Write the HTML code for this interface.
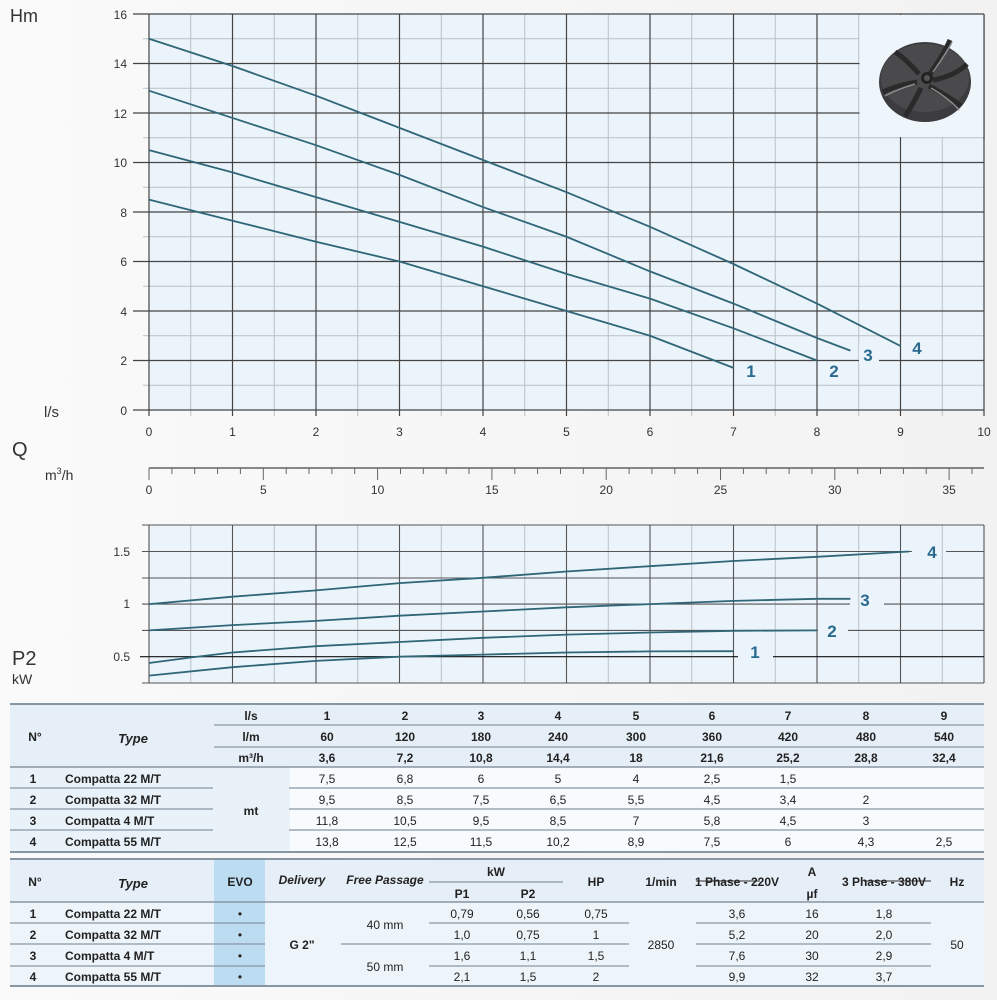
<!DOCTYPE html>
<html><head><meta charset="utf-8"><style>
html,body{margin:0;padding:0;background:#f6f6f6;}
svg{display:block;font-family:"Liberation Sans",sans-serif;}
</style></head><body>
<svg width="997" height="1000" viewBox="0 0 997 1000" xmlns="http://www.w3.org/2000/svg">
<defs>
<linearGradient id="bg" x1="0" x2="1" y1="0" y2="0"><stop offset="0" stop-color="#fafafa"/><stop offset="1" stop-color="#f2f2f2"/></linearGradient>
</defs>
<rect width="997" height="1000" fill="url(#bg)"/>
<!-- TOP CHART -->
<rect x="149" y="14" width="835" height="396" fill="#ebf4fb"/>
<g stroke="#b9c1c8" stroke-width="1">
<line x1="190.75" y1="14" x2="190.75" y2="416"/><line x1="274.25" y1="14" x2="274.25" y2="416"/><line x1="357.75" y1="14" x2="357.75" y2="416"/><line x1="441.25" y1="14" x2="441.25" y2="416"/><line x1="524.75" y1="14" x2="524.75" y2="416"/><line x1="608.25" y1="14" x2="608.25" y2="416"/><line x1="691.75" y1="14" x2="691.75" y2="416"/><line x1="775.25" y1="14" x2="775.25" y2="416"/><line x1="858.75" y1="14" x2="858.75" y2="416"/><line x1="942.25" y1="14" x2="942.25" y2="416"/>
<line x1="143" y1="38.75" x2="984" y2="38.75"/><line x1="143" y1="88.25" x2="984" y2="88.25"/><line x1="143" y1="137.75" x2="984" y2="137.75"/><line x1="143" y1="187.25" x2="984" y2="187.25"/><line x1="143" y1="236.75" x2="984" y2="236.75"/><line x1="143" y1="286.25" x2="984" y2="286.25"/><line x1="143" y1="335.75" x2="984" y2="335.75"/><line x1="143" y1="385.25" x2="984" y2="385.25"/>
</g>
<g stroke="#444" stroke-width="1.2">
<line x1="149" y1="14" x2="149" y2="416"/><line x1="232.5" y1="14" x2="232.5" y2="416"/><line x1="316" y1="14" x2="316" y2="416"/><line x1="399.5" y1="14" x2="399.5" y2="416"/><line x1="483" y1="14" x2="483" y2="416"/><line x1="566.5" y1="14" x2="566.5" y2="416"/><line x1="650" y1="14" x2="650" y2="416"/><line x1="733.5" y1="14" x2="733.5" y2="416"/><line x1="817" y1="14" x2="817" y2="416"/><line x1="900.5" y1="14" x2="900.5" y2="416"/><line x1="984" y1="14" x2="984" y2="416"/>
<line x1="133" y1="14" x2="984" y2="14"/><line x1="133" y1="63.5" x2="984" y2="63.5"/><line x1="133" y1="113" x2="984" y2="113"/><line x1="133" y1="162.5" x2="984" y2="162.5"/><line x1="133" y1="212" x2="984" y2="212"/><line x1="133" y1="261.5" x2="984" y2="261.5"/><line x1="133" y1="311" x2="984" y2="311"/><line x1="133" y1="360.5" x2="984" y2="360.5"/><line x1="133" y1="410" x2="984" y2="410"/>
</g>
<rect x="859.5" y="15" width="124" height="122" fill="#eef5fb"/>
<line x1="984" y1="14" x2="984" y2="140" stroke="#444" stroke-width="1.2"/>
<!-- impeller -->
<g transform="translate(925,82)">
<ellipse cx="0" cy="0" rx="46" ry="40" fill="#3c3c3e"/>
<ellipse cx="0" cy="-4" rx="44" ry="34" fill="#4a4a4c"/>
<g stroke="#2a2a2a" stroke-width="5" fill="none">
<path d="M5,-8 Q20,-30 25,-42"/><path d="M8,-2 Q30,-6 42,-18"/><path d="M4,4 Q26,16 36,24"/><path d="M-4,6 Q-14,26 -20,34"/><path d="M-8,0 Q-30,4 -42,10"/><path d="M-6,-8 Q-20,-24 -30,-30"/>
</g>
<g stroke="#8a8a8c" stroke-width="1.5" fill="none">
<path d="M8,-10 Q22,-30 27,-40"/><path d="M-10,2 Q-30,8 -40,14"/><path d="M6,6 Q26,18 34,28"/>
</g>
<circle cx="2" cy="-4" r="6" fill="#222"/><circle cx="2" cy="-4" r="3" fill="#555"/>
</g>
<!-- curves -->
<g fill="none" stroke="#2f6678" stroke-width="1.8" stroke-linejoin="round">
<polyline points="149,199.6 232.5,220.7 316,241.7 399.5,261.5 483,286.25 566.5,311 650,335.75 733.5,367.9"/>
<polyline points="149,150.1 232.5,172.4 316,197.15 399.5,221.9 483,246.65 566.5,273.9 650,298.6 733.5,328.3 817,360.5"/>
<polyline points="149,90.7 232.5,117.95 316,145.2 399.5,174.9 483,207.05 566.5,236.75 650,271.4 733.5,303.6 817,338 850.4,350.6"/>
<polyline points="149,38.75 232.5,66 316,95.7 399.5,127.85 483,160 566.5,192.2 650,226.85 733.5,264 817,303.6 900.5,346"/>
</g>
<rect x="859" y="344" width="20" height="20" fill="#ebf4fb"/>
<g font-weight="bold" font-size="17" fill="#2a6a8e" text-anchor="middle">
<text x="751" y="377">1</text><text x="834" y="377">2</text><text x="868" y="361">3</text><text x="917" y="354">4</text>
</g>
<g font-size="12" fill="#333" text-anchor="end">
<text x="127" y="19">16</text><text x="127" y="68">14</text><text x="127" y="118">12</text><text x="127" y="167">10</text><text x="127" y="217">8</text><text x="127" y="266">6</text><text x="127" y="316">4</text><text x="127" y="365">2</text><text x="127" y="415">0</text>
</g>
<g font-size="12" fill="#333" text-anchor="middle">
<text x="149" y="436">0</text><text x="232.5" y="436">1</text><text x="316" y="436">2</text><text x="399.5" y="436">3</text><text x="483" y="436">4</text><text x="566.5" y="436">5</text><text x="650" y="436">6</text><text x="733.5" y="436">7</text><text x="817" y="436">8</text><text x="900.5" y="436">9</text><text x="984" y="436">10</text>
</g>
<text x="10" y="22" font-size="18" fill="#333">Hm</text>
<text x="44" y="417" font-size="15" fill="#333">l/s</text>
<text x="12" y="456" font-size="20" fill="#333">Q</text>
<text x="45" y="480" font-size="14" fill="#333">m<tspan font-size="9" dy="-6">3</tspan><tspan dy="6">/h</tspan></text>
<!-- m3/h axis -->
<line x1="149" y1="468" x2="984" y2="468" stroke="#444" stroke-width="1.2"/>
<g stroke="#666" stroke-width="1">
<path d="M149,468v12M263.3,468v12M377.6,468v12M491.9,468v12M606.2,468v12M720.5,468v12M834.8,468v12M949.1,468v12"/>
<path d="M171.9,468v6M194.7,468v6M217.6,468v6M240.4,468v6M286.2,468v6M309,468v6M331.9,468v6M354.7,468v6M400.5,468v6M423.3,468v6M446.2,468v6M469,468v6M514.8,468v6M537.6,468v6M560.5,468v6M583.3,468v6M629.1,468v6M651.9,468v6M674.8,468v6M697.6,468v6M743.4,468v6M766.2,468v6M789.1,468v6M811.9,468v6M857.7,468v6M880.5,468v6M903.4,468v6M926.2,468v6M972,468v6"/>
</g>
<g font-size="12" fill="#333" text-anchor="middle">
<text x="149" y="494">0</text><text x="263.3" y="494">5</text><text x="377.6" y="494">10</text><text x="491.9" y="494">15</text><text x="606.2" y="494">20</text><text x="720.5" y="494">25</text><text x="834.8" y="494">30</text><text x="949.1" y="494">35</text>
</g>
<!-- P2 CHART -->
<rect x="149" y="525" width="835" height="158" fill="#ebf4fb"/>
<g stroke="#b9c1c8" stroke-width="1">
<line x1="190.75" y1="525" x2="190.75" y2="683"/><line x1="274.25" y1="525" x2="274.25" y2="683"/><line x1="357.75" y1="525" x2="357.75" y2="683"/><line x1="441.25" y1="525" x2="441.25" y2="683"/><line x1="524.75" y1="525" x2="524.75" y2="683"/><line x1="608.25" y1="525" x2="608.25" y2="683"/><line x1="691.75" y1="525" x2="691.75" y2="683"/><line x1="775.25" y1="525" x2="775.25" y2="683"/><line x1="858.75" y1="525" x2="858.75" y2="683"/><line x1="942.25" y1="525" x2="942.25" y2="683"/>
</g>
<g stroke="#555" stroke-width="1.1">
<line x1="149" y1="525" x2="149" y2="683"/><line x1="232.5" y1="525" x2="232.5" y2="683"/><line x1="316" y1="525" x2="316" y2="683"/><line x1="399.5" y1="525" x2="399.5" y2="683"/><line x1="483" y1="525" x2="483" y2="683"/><line x1="566.5" y1="525" x2="566.5" y2="683"/><line x1="650" y1="525" x2="650" y2="683"/><line x1="733.5" y1="525" x2="733.5" y2="683"/><line x1="817" y1="525" x2="817" y2="683"/><line x1="900.5" y1="525" x2="900.5" y2="683"/><line x1="984" y1="525" x2="984" y2="683"/>
<line x1="142" y1="525" x2="984" y2="525"/><line x1="142" y1="683" x2="984" y2="683"/>
<line x1="142" y1="578" x2="984" y2="578"/>
<path d="M142,551.5H912M946,551.5H984"/>
<path d="M142,604.1H850M884,604.1H984"/>
<path d="M142,630.4H818M848,630.4H984"/>
</g>
<path d="M140,656.7H738M773,656.7H984" stroke="#111" stroke-width="1.2"/>
<g fill="none" stroke="#2f6678" stroke-width="1.8" stroke-linejoin="round">
<polyline points="149,675.6 232.5,667.2 316,660.9 399.5,656.7 483,654.6 566.5,652.5 650,651.4 733.5,651.2"/>
<polyline points="149,663 190.75,657.5 232.5,652.5 316,646.2 399.5,642 483,637.8 566.5,634.6 650,632.5 733.5,630.8 817,630.4"/>
<polyline points="149,630.4 232.5,625.1 316,620.9 399.5,615.7 483,611.5 566.5,607.3 650,604.1 733.5,600.9 817,598.8 850.4,598.8"/>
<polyline points="149,604.1 232.5,596.7 316,590.4 399.5,583.1 483,577.8 566.5,571.5 650,566.2 733.5,561 817,556.8 908.9,551.5"/>
</g>
<g font-weight="bold" font-size="17" fill="#2a6a8e" text-anchor="middle">
<text x="755" y="658">1</text><text x="832" y="637">2</text><text x="865" y="606">3</text><text x="932" y="558">4</text>
</g>
<g font-size="12" fill="#333" text-anchor="end">
<text x="130" y="556">1.5</text><text x="130" y="608">1</text><text x="130" y="661">0.5</text>
</g>
<text x="12" y="665" font-size="20" fill="#333">P2</text>
<text x="12" y="684" font-size="14" fill="#333">kW</text>
<!-- TABLE 1 -->
<rect x="10" y="704" width="974" height="63" fill="#e6eff7"/>
<rect x="10" y="767" width="280" height="85" fill="#e9f2f8"/>
<rect x="290" y="767" width="694" height="85" fill="#f8fbfd"/>
<g stroke="#8796a3" stroke-width="1.3">
<line x1="10" y1="704" x2="984" y2="704" stroke-width="2"/>
<line x1="214" y1="725" x2="984" y2="725"/><line x1="214" y1="747" x2="984" y2="747"/>
<line x1="10" y1="767" x2="984" y2="767" stroke-width="1.6"/>
<path d="M10,788H213M289,788H984M10,809H213M289,809H984M10,830H213M289,830H984"/>
<line x1="10" y1="852" x2="984" y2="852" stroke-width="2"/>
</g>
<g font-size="12" fill="#222" text-anchor="middle">
<text x="35" y="741" font-weight="bold">N°</text>
<text x="133" y="743" font-weight="bold" font-style="italic" font-size="13">Type</text>
<g font-weight="bold">
<text x="251" y="720">l/s</text><text x="251" y="741">l/m</text><text x="251" y="762">m³/h</text>
<text x="327" y="720">1</text><text x="405" y="720">2</text><text x="481" y="720">3</text><text x="558" y="720">4</text><text x="636" y="720">5</text><text x="712" y="720">6</text><text x="788" y="720">7</text><text x="866" y="720">8</text><text x="944" y="720">9</text>
<text x="327" y="741">60</text><text x="405" y="741">120</text><text x="481" y="741">180</text><text x="558" y="741">240</text><text x="636" y="741">300</text><text x="712" y="741">360</text><text x="788" y="741">420</text><text x="866" y="741">480</text><text x="944" y="741">540</text>
<text x="327" y="762">3,6</text><text x="405" y="762">7,2</text><text x="481" y="762">10,8</text><text x="558" y="762">14,4</text><text x="636" y="762">18</text><text x="712" y="762">21,6</text><text x="788" y="762">25,2</text><text x="866" y="762">28,8</text><text x="944" y="762">32,4</text>
<text x="33" y="783">1</text><text x="33" y="804">2</text><text x="33" y="825">3</text><text x="33" y="846">4</text>
<text x="251" y="815">mt</text>
</g>
<g font-weight="bold" text-anchor="start"><text x="65" y="783">Compatta 22 M/T</text><text x="65" y="804">Compatta 32 M/T</text><text x="65" y="825">Compatta 4 M/T</text><text x="65" y="846">Compatta 55 M/T</text></g>
<text x="327" y="783">7,5</text><text x="405" y="783">6,8</text><text x="481" y="783">6</text><text x="558" y="783">5</text><text x="636" y="783">4</text><text x="712" y="783">2,5</text><text x="788" y="783">1,5</text>
<text x="327" y="804">9,5</text><text x="405" y="804">8,5</text><text x="481" y="804">7,5</text><text x="558" y="804">6,5</text><text x="636" y="804">5,5</text><text x="712" y="804">4,5</text><text x="788" y="804">3,4</text><text x="866" y="804">2</text>
<text x="327" y="825">11,8</text><text x="405" y="825">10,5</text><text x="481" y="825">9,5</text><text x="558" y="825">8,5</text><text x="636" y="825">7</text><text x="712" y="825">5,8</text><text x="788" y="825">4,5</text><text x="866" y="825">3</text>
<text x="327" y="846">13,8</text><text x="405" y="846">12,5</text><text x="481" y="846">11,5</text><text x="558" y="846">10,2</text><text x="636" y="846">8,9</text><text x="712" y="846">7,5</text><text x="788" y="846">6</text><text x="866" y="846">4,3</text><text x="944" y="846">2,5</text>
</g>
<!-- TABLE 2 -->
<rect x="10" y="859" width="974" height="43" fill="#e6eff7"/>
<rect x="10" y="902" width="974" height="84" fill="#eef5fa"/>
<rect x="214" y="859" width="51" height="127" fill="#bcdcf1"/>
<g stroke="#8796a3" stroke-width="1.3">
<line x1="10" y1="859" x2="984" y2="859" stroke-width="2"/>
<line x1="429" y1="882" x2="563" y2="882"/>
<line x1="10" y1="902" x2="984" y2="902" stroke-width="1.6"/>
<path d="M10,923H265M10,944H265M10,966H265"/>
<path d="M429,923H629M341,944H629M429,966H629"/>
<path d="M696,923H931M696,944H931M696,966H931"/>
<path d="M696,881H760M864,881H931" stroke="#555"/>
<line x1="10" y1="986" x2="984" y2="986" stroke-width="2"/>
</g>
<g font-size="12" fill="#222" text-anchor="middle">
<g font-weight="bold">
<text x="35" y="886">N°</text>
<text x="133" y="888" font-style="italic" font-size="13">Type</text>
<text x="240" y="886">EVO</text>
<text x="302" y="884" font-style="italic">Delivery</text>
<text x="385" y="884" font-style="italic">Free Passage</text>
<text x="496" y="876">kW</text><text x="462" y="898">P1</text><text x="528" y="898">P2</text>
<text x="596" y="886">HP</text><text x="661" y="886">1/min</text>
<text x="737" y="886">1 Phase - 220V</text><text x="812" y="876">A</text><text x="812" y="898">µf</text><text x="884" y="886">3 Phase - 380V</text><text x="957" y="886">Hz</text>
<text x="33" y="918">1</text><text x="33" y="939">2</text><text x="33" y="960">3</text><text x="33" y="981">4</text>
<text x="302" y="949">G 2"</text>
</g>
<g font-weight="bold" text-anchor="start"><text x="65" y="918">Compatta 22 M/T</text><text x="65" y="939">Compatta 32 M/T</text><text x="65" y="960">Compatta 4 M/T</text><text x="65" y="981">Compatta 55 M/T</text></g>
<text x="240" y="918">•</text><text x="240" y="939">•</text><text x="240" y="960">•</text><text x="240" y="981">•</text>
<text x="385" y="929">40 mm</text><text x="385" y="971">50 mm</text>
<text x="462" y="918">0,79</text><text x="528" y="918">0,56</text><text x="596" y="918">0,75</text>
<text x="462" y="939">1,0</text><text x="528" y="939">0,75</text><text x="596" y="939">1</text>
<text x="462" y="960">1,6</text><text x="528" y="960">1,1</text><text x="596" y="960">1,5</text>
<text x="462" y="981">2,1</text><text x="528" y="981">1,5</text><text x="596" y="981">2</text>
<text x="661" y="949">2850</text><text x="957" y="949">50</text>
<text x="737" y="918">3,6</text><text x="812" y="918">16</text><text x="884" y="918">1,8</text>
<text x="737" y="939">5,2</text><text x="812" y="939">20</text><text x="884" y="939">2,0</text>
<text x="737" y="960">7,6</text><text x="812" y="960">30</text><text x="884" y="960">2,9</text>
<text x="737" y="981">9,9</text><text x="812" y="981">32</text><text x="884" y="981">3,7</text>
</g>
</svg>
</body></html>
